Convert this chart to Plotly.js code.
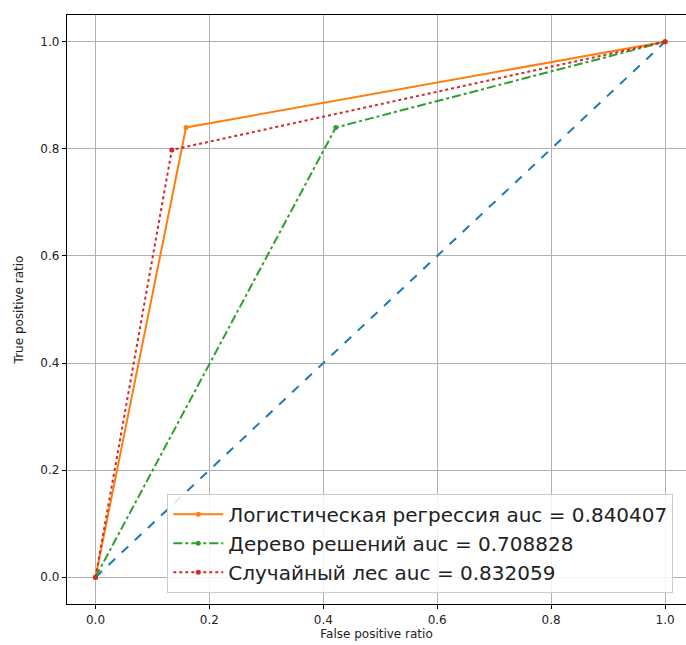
<!DOCTYPE html>
<html>
<head>
<meta charset="utf-8">
<script src="https://cdn.plot.ly/plotly-3.0.1.min.js"></script>
<style>
html,body{margin:0;padding:0;overflow:hidden;background:#fff;}
#chart{width:686px;height:645px;}
</style>
</head>
<body>
<div id="chart"></div>
<script>
// Data
const seriesNames = [
  "Логистическая регрессия auc = 0.840407",
  "Дерево решений auc = 0.708828",
  "Случайный лес auc = 0.832059"
];
const logregFpr = [0, 0.159, 1];
const logregTpr = [0, 0.840, 1];
const treeFpr = [0, 0.422, 1];
const treeTpr = [0, 0.840, 1];
const forestFpr = [0, 0.134, 1];
const forestTpr = [0, 0.798, 1];
const diagX = [0, 1];
const diagY = [0, 1];
const tickVals = [0, 0.2, 0.4, 0.6, 0.8, 1.0];
const tickText = ["0.0", "0.2", "0.4", "0.6", "0.8", "1.0"];

const traces = [
  {x: diagX, y: diagY, mode: "lines", showlegend: false,
   line: {color: "#1f77b4", width: 2, dash: "dash"}, hoverinfo: "skip"},
  {x: logregFpr, y: logregTpr, name: seriesNames[0], mode: "lines+markers",
   line: {color: "#ff7f0e", width: 2, dash: "solid"}, marker: {color: "#ff7f0e", size: 5}},
  {x: treeFpr, y: treeTpr, name: seriesNames[1], mode: "lines+markers",
   line: {color: "#2ca02c", width: 2, dash: "dashdot"}, marker: {color: "#2ca02c", size: 5}},
  {x: forestFpr, y: forestTpr, name: seriesNames[2], mode: "lines+markers",
   line: {color: "#d62728", width: 2, dash: "dot"}, marker: {color: "#d62728", size: 5}}
];

const axisCommon = {
  showgrid: true, gridcolor: "#b0b0b0", gridwidth: 1,
  zeroline: false, showline: true, linecolor: "#000", linewidth: 1.2,
  ticks: "outside", ticklen: 4, tickcolor: "#000",
  tickvals: tickVals, ticktext: tickText,
  tickfont: {family: "DejaVu Sans", size: 12, color: "#222"}
};

const layout = {
  width: 686, height: 645, autosize: false,
  margin: {l: 66.5, r: 0, t: 15, b: 41},
  paper_bgcolor: "#fff", plot_bgcolor: "#fff",
  font: {family: "DejaVu Sans", color: "#222"},
  xaxis: Object.assign({}, axisCommon, {
    range: [-0.05, 1.0368], mirror: true,
    title: {text: "False positive ratio", font: {family: "DejaVu Sans", size: 12, color: "#222"}, standoff: 3}
  }),
  yaxis: Object.assign({}, axisCommon, {
    range: [-0.05, 1.05], mirror: false,
    title: {text: "True positive ratio", font: {family: "DejaVu Sans", size: 12, color: "#222"}, standoff: 14}
  }),
  legend: {
    x: 0.162, y: 0.019, xanchor: "left", yanchor: "bottom",
    bgcolor: "rgba(255,255,255,0.85)", bordercolor: "#cccccc", borderwidth: 1,
    font: {family: "DejaVu Sans", size: 20, color: "#222"},
    itemwidth: 50, tracegroupgap: 0
  },
  showlegend: true
};

Plotly.newPlot("chart", traces, layout, {displayModeBar: false, staticPlot: true});
</script>
</body>
</html>
